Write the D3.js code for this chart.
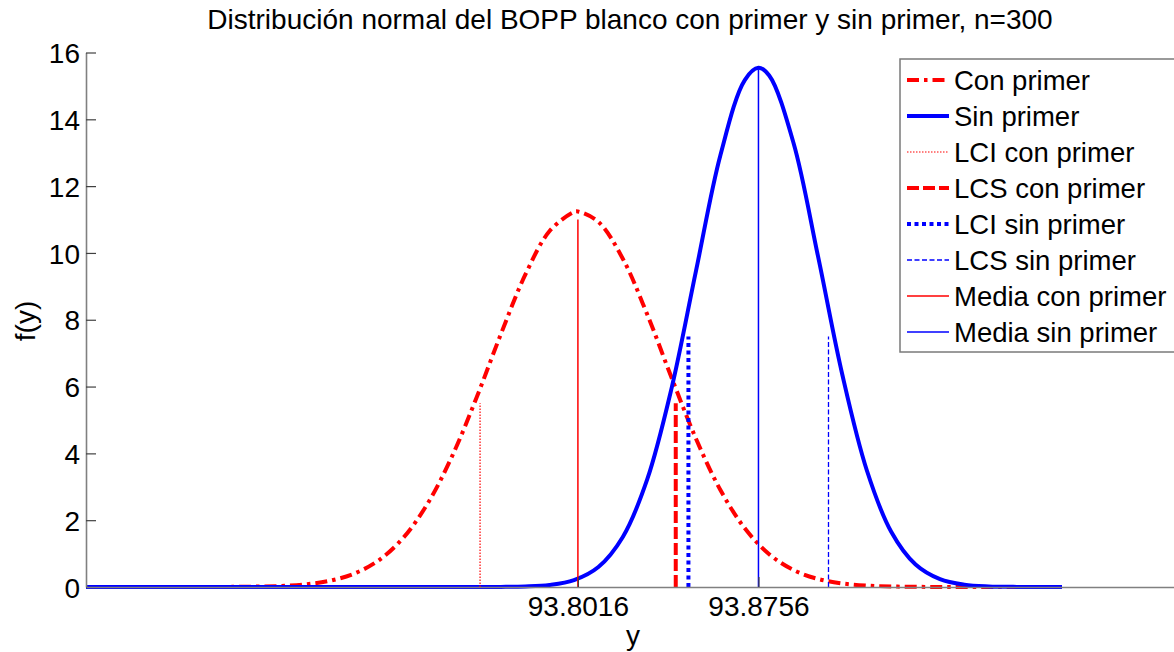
<!DOCTYPE html>
<html>
<head>
<meta charset="utf-8">
<script src="https://cdn.jsdelivr.net/npm/d3@7"></script>
<style>
  html, body { margin: 0; padding: 0; background: #fff; }
  svg { display: block; font-family: "Liberation Sans", Arial, sans-serif; }
</style>
</head>
<body>
<svg id="chart" width="1174" height="652"></svg>
<script>
// ---- Data ----
const titleText = "Distribución normal del BOPP blanco con primer y sin primer, n=300";
const xLabel = "y";
const yLabel = "f(y)";

const conX = [93.60, 93.61, 93.62, 93.63, 93.64, 93.65, 93.66, 93.67, 93.68, 93.69,
              93.70, 93.71, 93.72, 93.73, 93.74, 93.75, 93.76, 93.77, 93.78, 93.79,
              93.80, 93.8016, 93.81, 93.82, 93.83, 93.84, 93.85, 93.86, 93.87, 93.88,
              93.89, 93.90, 93.91, 93.92, 93.93, 93.94, 93.95, 93.96, 93.97, 93.98,
              93.99, 94.00];
const conY = [0, 0, 0.00002, 0.0001, 0.0004, 0.0012, 0.0039, 0.0117, 0.0318, 0.080,
              0.187, 0.403, 0.800, 1.470, 2.495, 3.908, 5.657, 7.563, 9.340, 10.655,
              11.229, 11.24, 10.930, 9.827, 8.162, 6.262, 4.438, 2.905, 1.757, 0.981,
              0.506, 0.241, 0.106, 0.0431, 0.0162, 0.0056, 0.0018, 0.0005, 0.0001, 0,
              0, 0];

const sinX = [93.60, 93.61, 93.62, 93.63, 93.64, 93.65, 93.66, 93.67, 93.68, 93.69,
              93.70, 93.71, 93.72, 93.73, 93.74, 93.75, 93.76, 93.77, 93.78, 93.79,
              93.80, 93.81, 93.82, 93.83, 93.84, 93.85, 93.86, 93.87, 93.8756, 93.88,
              93.89, 93.90, 93.91, 93.92, 93.93, 93.94, 93.95, 93.96, 93.97, 93.98,
              93.99, 94.00];
const sinY = [0, 0, 0, 0, 0, 0, 0, 0, 0, 0,
              0, 0, 0, 0, 0.00001, 0.0001, 0.0006, 0.0034, 0.0154, 0.0606,
              0.2054, 0.598, 1.497, 3.220, 5.953, 9.463, 12.926, 15.175, 15.54, 15.313,
              13.282, 9.902, 6.345, 3.495, 1.654, 0.673, 0.235, 0.0707, 0.0183, 0.0041,
              0.0008, 0.0001];

// vertical reference lines: confidence limits and means
const refNames = ["LCI con primer", "LCS con primer", "LCI sin primer", "LCS sin primer", "Media con primer", "Media sin primer"];
const refX = [93.7615, 93.8417, 93.8469, 93.9043, 93.8016, 93.8756];
const refH = [5.5, 5.5, 7.5, 7.5, 11, 15.5];

const xTicks = [93.8016, 93.8756];
const yTicks = [0, 2, 4, 6, 8, 10, 12, 14, 16];
const xDomain = [93.6, 94.05];
const yDomain = [0, 16];

const legendNames = ["Con primer", "Sin primer", "LCI con primer", "LCS con primer", "LCI sin primer", "LCS sin primer", "Media con primer", "Media sin primer"];

// ---- Styles ----
const RED = "#ff0000", BLUE = "#0000ff";
const styles = {
  "Con primer":       { color: RED,  width: 4,   dash: "12,5,3.5,5" },
  "Sin primer":       { color: BLUE, width: 4,   dash: null },
  "LCI con primer":   { color: RED,  width: 1.2, dash: "1.5,1.5" },
  "LCS con primer":   { color: RED,  width: 4,   dash: "12,4" },
  "LCI sin primer":   { color: BLUE, width: 4,   dash: "4,3.5" },
  "LCS sin primer":   { color: BLUE, width: 1.3, dash: "5,2.5" },
  "Media con primer": { color: RED,  width: 1.5, dash: null },
  "Media sin primer": { color: BLUE, width: 1.5, dash: null }
};

const svg = d3.select("#chart");
const x = d3.scaleLinear().domain(xDomain).range([86, 1184]);
const y = d3.scaleLinear().domain(yDomain).range([587, 52.5]);

const plot = svg.append("g");

function applyStyle(sel, name) {
  const s = styles[name];
  sel.attr("stroke", s.color).attr("stroke-width", s.width).attr("fill", "none");
  if (s.dash) sel.attr("stroke-dasharray", s.dash);
  return sel;
}

const line = d3.line()
  .x(d => x(d[0])).y(d => y(d[1]))
  .curve(d3.curveCatmullRom.alpha(0.5));

const conData = conX.map((v, i) => [v, conY[i]]);
const sinData = sinX.map((v, i) => [v, sinY[i]]);

applyStyle(plot.append("path").datum(conData).attr("d", line), "Con primer");
applyStyle(plot.append("path").datum(sinData).attr("d", line), "Sin primer");

refNames.forEach((name, i) => {
  applyStyle(plot.append("line")
    .attr("x1", x(refX[i])).attr("x2", x(refX[i]))
    .attr("y1", y(0)).attr("y2", y(refH[i])), name);
});

// ---- Axes ----
const axisColor = "#808080";
const fontSize = 28;

const yAxis = svg.append("g")
  .attr("transform", `translate(${x(xDomain[0])},0)`)
  .call(d3.axisLeft(y).tickValues(yTicks).tickSizeInner(-10).tickSizeOuter(0).tickPadding(6).tickFormat(d3.format("d")));
const xAxis = svg.append("g")
  .attr("transform", `translate(0,${y(0)})`)
  .call(d3.axisBottom(x).tickValues(xTicks).tickSizeInner(-10).tickSizeOuter(0).tickPadding(9).tickFormat(d3.format(".4f")));

[xAxis, yAxis].forEach(ax => {
  ax.select(".domain").attr("stroke", axisColor).attr("stroke-width", 1.6);
  ax.selectAll(".tick line").attr("stroke", "#404040").attr("stroke-width", 1.2);
  ax.selectAll(".tick text")
    .attr("fill", "#000")
    .style("font-family", '"Liberation Sans", Arial, sans-serif')
    .style("font-size", fontSize + "px");
});
yAxis.selectAll(".tick text").attr("dy", "0.36em");

// axis labels and title
svg.append("text")
  .attr("x", 630).attr("y", 29)
  .attr("text-anchor", "middle")
  .style("font-size", "28px")
  .text(titleText);

svg.append("text")
  .attr("x", 633).attr("y", 645)
  .attr("text-anchor", "middle")
  .style("font-size", fontSize + "px")
  .text(xLabel);

svg.append("text")
  .attr("transform", "translate(35,321) rotate(-90)")
  .attr("text-anchor", "middle")
  .style("font-size", fontSize + "px")
  .text(yLabel);

// ---- Legend ----
const legend = svg.append("g");
legend.append("rect")
  .attr("x", 900).attr("y", 59).attr("width", 320).attr("height", 293)
  .attr("fill", "#fff").attr("stroke", "#7a7a7a").attr("stroke-width", 1.5);

legendNames.forEach((name, i) => {
  const cy = 80 + i * 36;
  applyStyle(legend.append("line")
    .attr("x1", 907).attr("x2", 949).attr("y1", cy).attr("y2", cy), name);
  legend.append("text")
    .attr("x", 954).attr("y", cy)
    .attr("dy", "0.36em")
    .style("font-size", "27.5px")
    .attr("fill", "#000")
    .text(name);
});
</script>
</body>
</html>
